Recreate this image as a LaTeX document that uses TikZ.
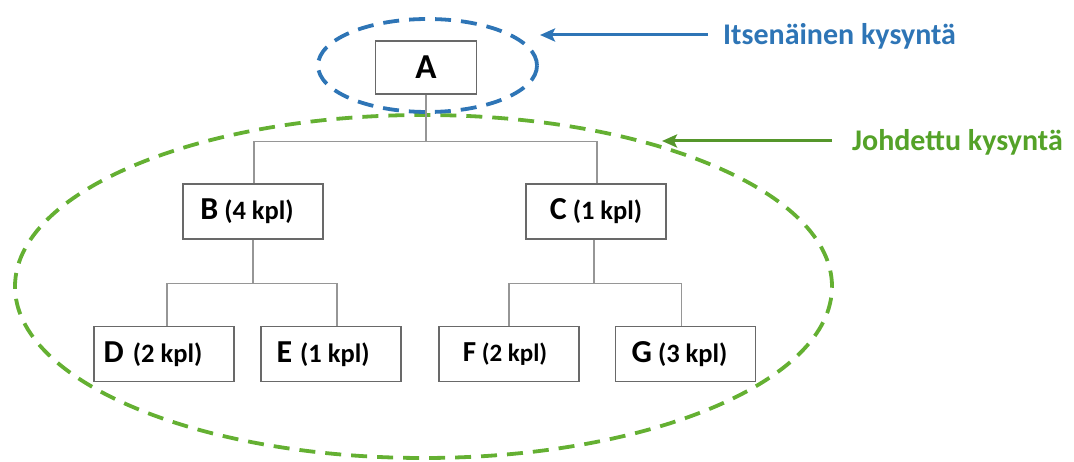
\documentclass[tikz,border=0pt]{standalone}
\usepackage{fontspec}
\setmainfont{Carlito}
\usetikzlibrary{arrows.meta}
\definecolor{bluec}{RGB}{46,117,182}
\definecolor{greenc}{RGB}{100,176,50}
\definecolor{greentext}{RGB}{84,162,40}
\definecolor{boxgray}{RGB}{105,105,105}
\definecolor{linegray}{RGB}{150,150,150}
\newcommand{\biglet}[1]{{\fontsize{32}{32}\selectfont #1}}
\newcommand{\smp}[1]{{\fontsize{26.5}{26.5}\selectfont #1}}
\begin{document}
\begin{tikzpicture}[x=1pt,y=-1pt,
  box/.style={draw=boxgray, line width=1.3pt, fill=white, minimum width=140pt, minimum height=55pt, inner sep=0pt, font=\bfseries},
  conn/.style={draw=linegray, line width=1.5pt},
  ring/.style={line width=3.8pt, dash pattern=on 16pt off 10pt},
  arr/.style={line width=3pt, -{Stealth[length=15pt,width=13pt,inset=3pt]}},
  lbl/.style={anchor=base west, inner sep=0pt, font=\bfseries\fontsize{30}{30}\selectfont}]
\useasboundingbox (0,0) rectangle (1074,462);
% rings
\draw[ring, greenc] (423.5,286.5) ellipse [x radius=408.5pt, y radius=171.5pt];
\draw[ring, bluec] (427.5,65.5) ellipse [x radius=109.5pt, y radius=46.5pt];
% nodes
\node[box, minimum width=101pt, minimum height=53pt] (A) at (426,67.5) {\fontsize{35}{35}\selectfont A};
\node[box] (B) at (253,211.5) {\biglet{B}\smp{ (4 kpl)}\kern12pt};
\node[box] (C) at (596,211.5) {\biglet{C}\smp{ (1 kpl)}};
\node[box] (D) at (164,354) {\biglet{D}\smp{\kern3pt{} (2 kpl)}\kern22pt};
\node[box] (E) at (331,354) {\biglet{E}\smp{\kern2pt{} (1 kpl)}\kern16pt};
\node[box] (F) at (509,354) {{\fontsize{29}{29}\selectfont F}{\fontsize{25}{25}\selectfont\ (2 kpl)}\kern8pt};
\node[box] (G) at (685.5,354) {\biglet{G}\smp{ (3 kpl)}\kern12pt};
% connectors
\draw[conn] (A.south) -- ++(0,47) coordinate (jA);
\draw[conn] ([xshift=1pt]B.north) |- (jA) -| ([xshift=1pt]C.north);
\draw[conn] (B.south) -- ++(0,44) coordinate (jB);
\draw[conn] ([xshift=3pt]D.north) |- (jB) -| ([xshift=6pt]E.north);
\draw[conn] ([xshift=-2pt]C.south) -- ++(0,44) coordinate (jC);
\draw[conn] (F.north) |- (jC) -| ([xshift=-4pt]G.north);
% labels
\node[lbl, text=bluec] (L1) at (723,45) {Itsenäinen kysyntä};
\node[lbl, text=greentext] (L2) at (852,151) {Johdettu kysyntä};
\coordinate (t1) at (540,35);
\coordinate (t2) at (662,141);
\draw[arr, bluec] (L1.west |- t1) ++(-15,0) -- (t1);
\draw[arr, greenc!85!black] (L2.west |- t2) ++(-20,0) -- (t2);
\end{tikzpicture}
\end{document}
